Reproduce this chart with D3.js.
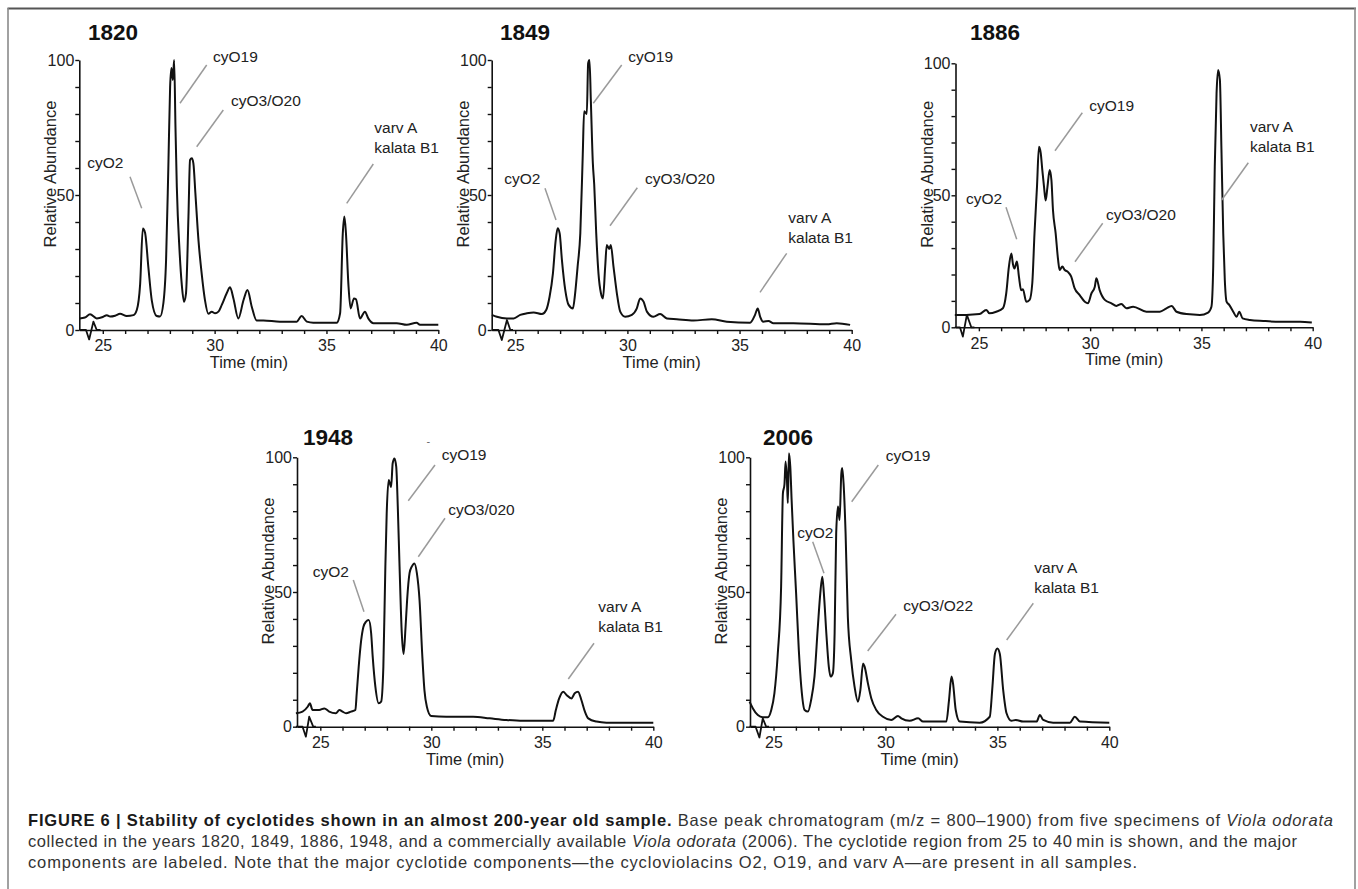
<!DOCTYPE html>
<html><head><meta charset="utf-8">
<script src="https://cdn.jsdelivr.net/npm/d3@7"></script>
<style>
body{margin:0;background:#fff}
svg{display:block}
text{font-family:"Liberation Sans",Arial,Helvetica,sans-serif}
</style>
</head><body>
<svg id="chart" width="1358" height="889"></svg>
<script>
// ---------------- DATA ----------------
const years = ["1820", "1849", "1886", "1948", "2006"];
const xTicks = d3.range(25, 41, 1);
const xTickLabels = [25, 30, 35, 40];
const yTicks = d3.range(0, 101, 10);
const yTickLabels = [0, 50, 100];
const xTitle = "Time (min)";
const yTitle = "Relative Abundance";

const trace1820 = [[23.96,4.3],[24.2,4.6],[24.43,5.8],[24.73,4.3],[25.0,4.8],[25.18,5.5],[25.33,5.0],[25.55,5.3],[25.77,6.0],[26.07,5.2],[26.37,5.5],[26.52,7.4],[26.67,17],[26.79,37.6],[26.89,36],[27.04,23],[27.19,11],[27.41,5.2],[27.56,5.0],[27.71,10],[27.83,26],[27.93,60],[28.01,90],[28.07,97],[28.13,92.6],[28.19,100],[28.25,75],[28.31,53],[28.43,29.6],[28.53,17],[28.63,10.5],[28.72,13.6],[28.83,42],[28.90,63],[28.98,63.6],[29.05,61.7],[29.14,50.6],[29.28,33],[29.42,21],[29.57,11],[29.72,6],[29.87,6.8],[30.02,6.2],[30.17,6.8],[30.32,9.3],[30.54,13.6],[30.69,15.8],[30.84,11.7],[31.06,4.3],[31.29,11],[31.47,14.8],[31.66,8.6],[31.88,3.5],[32.18,3.5],[32.92,3.1],[33.67,3.1],[33.89,5.2],[34.12,3.1],[34.41,2.7],[35.46,2.7],[35.61,6.2],[35.73,35.8],[35.80,42],[35.87,36],[35.98,17],[36.08,8],[36.23,11.7],[36.32,11.4],[36.50,4.3],[36.72,6.8],[36.87,4.3],[37.1,2.5],[38.14,2.5],[38.59,1.9],[39.03,2.7],[39.18,1.9],[40,1.9]];
const artifact1820 = [[23.96,0],[24.25,0],[24.39,-3.5],[24.58,3.1],[24.73,0],[24.9,0]];

const trace1849 = [[23.96,5.6],[24.18,4.9],[24.63,4.3],[24.93,4.3],[25.22,5.6],[25.52,6.2],[25.82,6.5],[26.19,5.9],[26.38,7.4],[26.53,12.3],[26.68,21],[26.80,33],[26.89,37.7],[26.98,35.8],[27.08,26],[27.23,14.8],[27.38,9.3],[27.57,8],[27.67,13.6],[27.78,23.5],[27.90,35.8],[28.01,65],[28.07,81],[28.19,80],[28.25,98.8],[28.31,100],[28.37,85],[28.46,61.7],[28.52,54],[28.61,35.8],[28.71,21],[28.82,13.6],[28.91,11.7],[29.01,23.5],[29.08,31.5],[29.19,30],[29.26,31.5],[29.38,23.5],[29.53,13.6],[29.68,6.8],[29.9,4.9],[30.2,5.6],[30.42,8],[30.57,11.7],[30.72,10.5],[30.87,6.8],[31.16,4.9],[31.46,5.9],[31.76,4.3],[32.2,4],[32.95,3.5],[33.76,4],[34.43,3.1],[35.47,2.7],[35.69,5.6],[35.81,8],[35.92,4.9],[36.06,3.1],[36.29,3.3],[36.51,2.5],[37.4,2.5],[38.89,2.1],[39.33,2.5],[39.93,1.9]];
const artifact1849 = [[23.96,0],[24.25,0],[24.4,-3.7],[24.63,3.7],[24.78,0],[24.9,0]];

const trace1886 = [[23.92,4.7],[24.43,4.7],[25.03,5],[25.33,6.6],[25.48,5.3],[25.78,5.9],[26.08,7.2],[26.23,12.9],[26.35,23],[26.46,28],[26.53,24],[26.6,22.3],[26.71,24.9],[26.8,19.2],[26.9,14],[26.98,14.4],[27.13,9.7],[27.28,10.4],[27.4,16.7],[27.5,35.6],[27.61,53],[27.7,68.4],[27.78,66],[27.85,59.6],[27.93,53],[28.0,48],[28.08,53],[28.18,59.6],[28.26,55.8],[28.33,44.4],[28.45,35.6],[28.56,25.5],[28.63,21.7],[28.75,23],[28.86,21.7],[29.0,21],[29.15,19.2],[29.3,14.8],[29.53,12.2],[29.76,9.7],[29.9,9.1],[30.06,12.9],[30.21,15.4],[30.28,18.6],[30.43,14],[30.66,10.4],[30.96,9.1],[31.18,8.1],[31.4,8.8],[31.63,7.2],[31.93,7.8],[32.53,5.9],[33.13,5.9],[33.43,7.2],[33.66,8.1],[33.88,5.9],[34.33,5],[34.93,4.7],[35.3,5.6],[35.45,7.8],[35.53,23],[35.6,61],[35.68,88.6],[35.75,97.5],[35.83,93.7],[35.9,67.2],[35.98,35.6],[36.05,18],[36.13,9.7],[36.25,8.5],[36.43,5.9],[36.58,4],[36.7,5.9],[36.85,3.4],[37.18,2.8],[37.78,2.4],[38.53,2.1],[39.43,2.1],[39.96,1.8]];
const artifact1886 = [[23.92,0],[24.15,0],[24.28,-3.5],[24.46,4.7],[24.66,0],[24.8,0]];

const trace1948 = [[23.9,5],[24.2,5.6],[24.43,7.4],[24.53,8.7],[24.65,6.2],[24.95,6.2],[25.18,6.8],[25.4,5.6],[25.7,5],[25.86,6.2],[26.0,5.6],[26.16,5],[26.38,5.6],[26.58,6.2],[26.64,12.4],[26.73,22.3],[26.84,32],[26.94,37],[27.06,39],[27.18,39.6],[27.29,34.7],[27.36,26],[27.48,14.9],[27.63,8.7],[27.74,9.3],[27.84,22.3],[27.93,59.4],[27.99,79],[28.08,91.6],[28.19,89],[28.26,97.8],[28.34,99.6],[28.42,96.5],[28.49,81.7],[28.57,59.4],[28.67,34.7],[28.75,27],[28.84,37],[28.91,47],[29.02,57],[29.12,59.4],[29.24,60.6],[29.35,57],[29.47,47],[29.59,27],[29.69,13.6],[29.8,7.4],[29.99,4],[30.67,3.7],[31.88,3.7],[32.63,3.1],[33.38,2.5],[34.13,2.2],[35.49,2.2],[35.61,6.2],[35.76,10.5],[35.94,13],[36.09,11.8],[36.31,10.5],[36.46,12.4],[36.61,13],[36.76,9.9],[36.92,5.6],[37.07,3.1],[37.44,1.9],[37.89,1.5],[40,1.5]];
const artifact1948 = [[23.9,0],[24.2,0],[24.35,-3.7],[24.5,3.7],[24.68,0],[24.8,0]];

const trace2006 = [[23.93,9.3],[24.08,6.8],[24.3,4.3],[24.52,3.5],[24.75,3.5],[24.9,6.2],[25.04,12.4],[25.19,27],[25.34,52],[25.42,86.6],[25.49,90],[25.54,98.4],[25.6,91.6],[25.64,83],[25.69,101.5],[25.75,96.5],[25.81,84],[25.89,69],[26.01,49.5],[26.13,28.5],[26.24,14.9],[26.39,6.2],[26.54,5.6],[26.68,9.9],[26.83,18.6],[26.98,37],[27.09,49.5],[27.18,55.7],[27.25,49.5],[27.36,34.7],[27.47,22.3],[27.55,18.6],[27.65,19.8],[27.73,34.7],[27.8,71.8],[27.88,81.7],[27.95,76.7],[28.03,94],[28.07,96],[28.13,90.3],[28.22,71.8],[28.32,40.8],[28.47,24.8],[28.62,14.9],[28.77,9.3],[28.88,13.6],[29.0,23.5],[29.07,22.3],[29.22,16],[29.37,10.5],[29.59,6.2],[29.89,3.7],[30.26,2.5],[30.56,4],[30.71,3.1],[31.08,2.2],[31.46,3.1],[31.68,1.9],[32.72,1.9],[32.84,9.9],[32.95,18.6],[33.02,16],[33.14,6.2],[33.32,1.9],[34.21,1.5],[34.66,3.7],[34.78,14.9],[34.89,27],[35.0,29],[35.11,27],[35.26,13.6],[35.41,5],[35.63,2.2],[35.82,2.5],[36.15,1.9],[36.75,1.9],[36.9,4.3],[37.05,2.5],[37.49,1.5],[38.24,1.5],[38.46,3.7],[38.69,1.9],[40,1.5]];
const artifact2006 = [[23.93,0],[24.2,0],[24.37,-4],[24.52,3.1],[24.67,0],[24.8,0]];

const labels1820 = ["cyO2", "cyO19", "cyO3/O20", "varv A|kalata B1"];
const labels1849 = ["cyO2", "cyO19", "cyO3/O20", "varv A|kalata B1"];
const labels1886 = ["cyO2", "cyO19", "cyO3/O20", "varv A|kalata B1"];
const labels1948 = ["cyO2", "cyO19", "cyO3/020", "varv A|kalata B1"];
const labels2006 = ["cyO2", "cyO19", "cyO3/O22", "varv A|kalata B1"];

// ---------------- LAYOUT ----------------
const xDomain = [23.95, 40];
const yDomain = [0, 100];
const layout = [
  { trace: trace1820, art: artifact1820, labels: labels1820, xr: [79.3, 438.3], yr: [330, 60], title: [88, 40],
    ann: [[87.3,168.3, 130,176.7, 141.7,208.3],[213,62, 206.7,65, 180,103.3],[231,106, 223.3,110, 196.7,146.7],[374.3,133.3, 373.3,164, 346.7,203.3]] },
  { trace: trace1849, art: artifact1849, labels: labels1849, xr: [491.7, 851.7], yr: [330, 60], title: [500, 40],
    ann: [[504.3,184.3, 545,188.3, 556,220],[628.3,62.3, 621.7,65, 593.3,103.3],[645,184.3, 637.3,187.7, 610,225.7],[788.3,222.7, 786.7,253.3, 760,292.3]] },
  { trace: trace1886, art: artifact1886, labels: labels1886, xr: [955.5, 1312.7], yr: [327.3, 63.3], title: [970, 40],
    ann: [[966,204, 1006,207.3, 1016.7,239.3],[1089.3,110.7, 1082.3,112.7, 1055,150.7],[1106,220, 1102.7,223.3, 1075,261.7],[1250,131.7, 1248.3,162.7, 1221.7,200]] },
  { trace: trace1948, art: artifact1948, labels: labels1948, xr: [297, 653.3], yr: [726.7, 457.3], title: [303, 445],
    ann: [[312.7,576.7, 353.3,580, 364,611.7],[441.7,460, 435,465, 408.3,500.7],[448.3,515, 445,518.3, 418.3,556.7],[598.3,612.3, 594,643.3, 568.3,679]] },
  { trace: trace2006, art: artifact2006, labels: labels2006, xr: [750, 1109.3], yr: [726.7, 457.3], title: [763, 445],
    ann: [[797.3,538.3, 812.7,541.7, 824,573.3],[885.7,461, 878.3,465, 851.7,501.7],[903.3,611, 896,614.3, 867.7,651],[1034.3,573.3, 1033.3,603.3, 1006.7,640]] }
];

const svg = d3.select("#chart");
svg.append("rect").attr("width", 1358).attr("height", 889).attr("fill", "#fff");

// frame
svg.append("line").attr("x1", 7.5).attr("x2", 1356).attr("y1", 8.5).attr("y2", 8.5)
  .attr("stroke", "#555").attr("stroke-width", 2);
svg.append("line").attr("x1", 8).attr("x2", 8).attr("y1", 8).attr("y2", 889)
  .attr("stroke", "#8a8a8a").attr("stroke-width", 1.6);
svg.append("line").attr("x1", 1355).attr("x2", 1355).attr("y1", 8).attr("y2", 889)
  .attr("stroke", "#8a8a8a").attr("stroke-width", 1.6);

layout.forEach((p, i) => {
  const x = d3.scaleLinear().domain(xDomain).range(p.xr);
  const y = d3.scaleLinear().domain(yDomain).range(p.yr);
  const g = svg.append("g");

  // x axis
  const xa = g.append("g").attr("transform", `translate(0,${p.yr[0]})`)
    .call(d3.axisBottom(x).tickValues(xTicks).tickSize(4).tickSizeOuter(0).tickPadding(6)
      .tickFormat(d => xTickLabels.includes(d) ? d : ""));
  // y axis
  const ya = g.append("g").attr("transform", `translate(${p.xr[0]},0)`)
    .call(d3.axisLeft(y).tickValues(yTicks).tickSize(4).tickSizeOuter(0).tickPadding(1)
      .tickFormat(d => yTickLabels.includes(d) ? d : ""));
  [xa, ya].forEach(a => {
    a.select(".domain").attr("stroke", "#111").attr("stroke-width", 1.6);
    a.selectAll(".tick line").attr("stroke", "#111").attr("stroke-width", 1.4);
    a.selectAll(".tick text").attr("fill", "#222").style("font-size", "16px")
      .style("font-family", '"Liberation Sans", Arial, sans-serif');
  });

  // axis titles
  g.append("text").attr("x", (p.xr[0] + p.xr[1]) / 2 - 10).attr("y", p.yr[0] + 38)
    .attr("text-anchor", "middle").attr("fill", "#222").style("font-size", "16.5px").text(xTitle);
  g.append("text")
    .attr("transform", `translate(${p.xr[0] - 23},${(p.yr[0] + p.yr[1]) / 2 - 21}) rotate(-90)`)
    .attr("text-anchor", "middle").attr("fill", "#222").style("font-size", "16.5px").text(yTitle);

  // panel title
  g.append("text").attr("x", p.title[0]).attr("y", p.title[1])
    .attr("fill", "#111").style("font-size", "22.5px").style("font-weight", "bold").text(years[i]);

  // traces
  const line = d3.line().x(d => x(d[0])).y(d => y(d[1])).curve(d3.curveMonotoneX);
  g.append("path").datum(p.art).attr("d", d3.line().x(d => x(d[0])).y(d => y(d[1]))(p.art))
    .attr("fill", "none").attr("stroke", "#111").attr("stroke-width", 1.8).attr("stroke-linejoin", "round");
  g.append("path").datum(p.trace).attr("d", line)
    .attr("fill", "none").attr("stroke", "#111").attr("stroke-width", 2).attr("stroke-linejoin", "round");

  // annotations
  p.labels.forEach((lab, k) => {
    const a = p.ann[k];
    g.append("line").attr("x1", a[2]).attr("y1", a[3]).attr("x2", a[4]).attr("y2", a[5])
      .attr("stroke", "#9a9a9a").attr("stroke-width", 1.5);
    const parts = lab.split("|");
    const t = g.append("text").attr("x", a[0]).attr("y", a[1]).attr("fill", "#222").style("font-size", "15.5px");
    parts.forEach((s, j) => {
      t.append("tspan").attr("x", a[0]).attr("dy", j === 0 ? 0 : 20).text(s);
    });
  });

  if (i === 3) {
    g.append("text").attr("x", 426.5).attr("y", 445).attr("fill", "#666").style("font-size", "11px").text("-");
  }
});

// caption
const cap = svg.append("g").attr("fill", "#333").style("font-size", "16.5px");
const l1 = cap.append("text").attr("x", 28).attr("y", 825.5).attr("textLength", 1305).attr("lengthAdjust", "spacing");
l1.append("tspan").style("font-weight", "bold").attr("fill", "#1a1a1a")
  .text("FIGURE 6 | Stability of cyclotides shown in an almost 200-year old sample.");
l1.append("tspan").text(" Base peak chromatogram (m/z = 800–1900) from five specimens of ");
l1.append("tspan").style("font-style", "italic").text("Viola odorata");

const l2 = cap.append("text").attr("x", 28).attr("y", 846.5).attr("textLength", 1269).attr("lengthAdjust", "spacing");
l2.append("tspan").text("collected in the years 1820, 1849, 1886, 1948, and a commercially available ");
l2.append("tspan").style("font-style", "italic").text("Viola odorata");
l2.append("tspan").text(" (2006). The cyclotide region from 25 to 40\u2009min is shown, and the major");

cap.append("text").attr("x", 28).attr("y", 867.5).attr("textLength", 1109).attr("lengthAdjust", "spacing")
  .text("components are labeled. Note that the major cyclotide components\u2014the cycloviolacins O2, O19, and varv A\u2014are present in all samples.");
</script>
</body></html>
